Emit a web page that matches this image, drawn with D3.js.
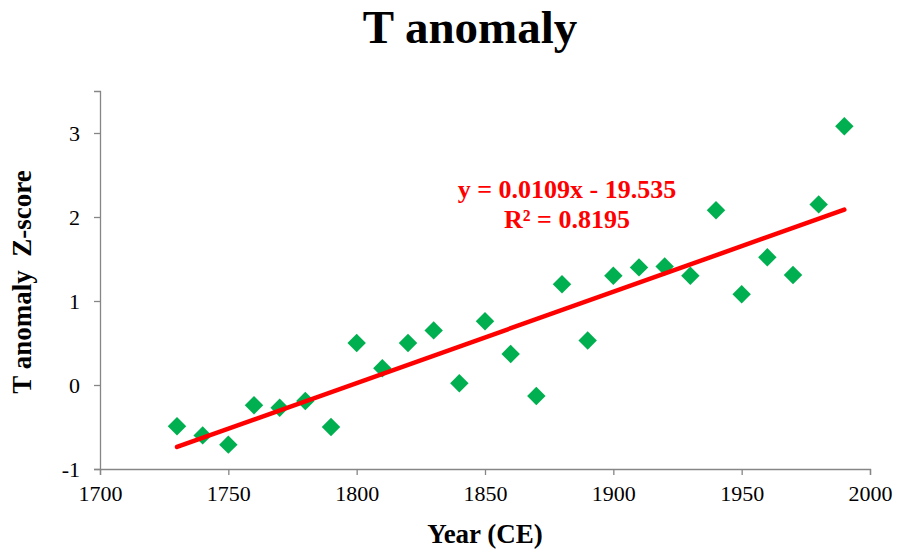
<!DOCTYPE html>
<html>
<head>
<meta charset="utf-8">
<script src="https://cdn.jsdelivr.net/npm/d3@7"></script>
<style>
  body { margin: 0; background: #fff; }
  text { font-family: "Liberation Serif", "Times New Roman", serif; }
</style>
</head>
<body>
<div id="chart"></div>
<script>
// decades and T anomaly z-scores
var years = [1730, 1740, 1750, 1760, 1770, 1780, 1790, 1800, 1810, 1820, 1830, 1840, 1850, 1860,
             1870, 1880, 1890, 1900, 1910, 1920, 1930, 1940, 1950, 1960, 1970, 1980, 1990];
var zscores = [-0.49, -0.6, -0.71, -0.24, -0.27, -0.19, -0.5, 0.5, 0.2, 0.5, 0.65, 0.02, 0.76, 0.37,
               -0.13, 1.2, 0.53, 1.3, 1.4, 1.41, 1.3, 2.08, 1.08, 1.52, 1.31, 2.15, 3.08];
var xTicks = [1700, 1750, 1800, 1850, 1900, 1950, 2000];
var yTicks = [-1, 0, 1, 2, 3];
var eqLines = ["y = 0.0109x - 19.535", "R\u00B2 = 0.8195"];

var width = 900, height = 555;
var margin = {top: 91, right: 30, bottom: 86, left: 100};

var data = years.map(function(y, i) { return {year: y, z: zscores[i]}; });

var svg = d3.select("#chart").append("svg")
  .attr("width", width)
  .attr("height", height);

var x = d3.scaleLinear().domain([1700, 2000]).range([margin.left, 870]);
var y = d3.scaleLinear().domain([-1, 3.5]).range([height - margin.bottom, margin.top]);

// title
svg.append("text")
  .attr("x", 470).attr("y", 43)
  .attr("text-anchor", "middle")
  .style("font-size", "47px").style("font-weight", "bold")
  .text("T anomaly");

// axes
var axisColor = "#868686";
var plain = function(d) { return String(d); };
var xAxis = svg.append("g")
  .attr("transform", "translate(0," + y(-1) + ")")
  .call(d3.axisBottom(x).tickValues(xTicks).tickSize(6).tickPadding(10).tickFormat(plain));
var yAxis = svg.append("g")
  .attr("transform", "translate(" + x(1700) + ",0)")
  .call(d3.axisLeft(y).tickValues(yTicks).tickSize(6).tickPadding(14).tickFormat(plain));

[xAxis, yAxis].forEach(function(a) {
  a.attr("font-family", null).attr("font-size", null);
  a.select(".domain").attr("stroke", axisColor).attr("stroke-width", 1.3);
  a.selectAll(".tick line").attr("stroke", axisColor).attr("stroke-width", 1.3);
  a.selectAll(".tick text")
    .attr("fill", "#000")
    .style("font-family", "'Liberation Serif', 'Times New Roman', serif")
    .style("font-size", "22px");
});
yAxis.selectAll(".tick text").attr("dy", "0.35em");

// axis labels
svg.append("text")
  .attr("x", 485).attr("y", 543)
  .attr("text-anchor", "middle")
  .style("font-size", "27px").style("font-weight", "bold")
  .text("Year (CE)");

svg.append("text")
  .attr("transform", "translate(31,282) rotate(-90)")
  .attr("text-anchor", "middle")
  .attr("xml:space", "preserve")
  .style("white-space", "pre")
  .style("font-size", "27px").style("font-weight", "bold")
  .text("T anomaly  Z-score");

// diamonds
var diamond = d3.symbol().type(d3.symbolSquare).size(170);
svg.append("g").selectAll("path")
  .data(data).enter().append("path")
  .attr("d", diamond)
  .attr("transform", function(d) { return "translate(" + x(d.year) + "," + y(d.z) + ") rotate(45)"; })
  .attr("fill", "#00B050");

// least squares trend line
var mx = d3.mean(data, function(d) { return d.year; });
var my = d3.mean(data, function(d) { return d.z; });
var sxy = d3.sum(data, function(d) { return (d.year - mx) * (d.z - my); });
var sxx = d3.sum(data, function(d) { return (d.year - mx) * (d.year - mx); });
var slope = sxy / sxx, icpt = my - slope * mx;
var ext = d3.extent(years);

svg.append("path")
  .datum(ext.map(function(v) { return {year: v, z: slope * v + icpt}; }))
  .attr("d", d3.line().x(function(d) { return x(d.year); }).y(function(d) { return y(d.z); }))
  .attr("stroke", "#FF0000")
  .attr("stroke-width", 4.5)
  .attr("stroke-linecap", "round")
  .attr("fill", "none");

// equation label
svg.append("g").selectAll("text")
  .data(eqLines).enter().append("text")
  .attr("x", 567)
  .attr("y", function(d, i) { return 198 + i * 30; })
  .attr("text-anchor", "middle")
  .attr("fill", "#FF0000")
  .style("font-size", "26px").style("font-weight", "bold")
  .text(function(d) { return d; });
</script>
</body>
</html>
